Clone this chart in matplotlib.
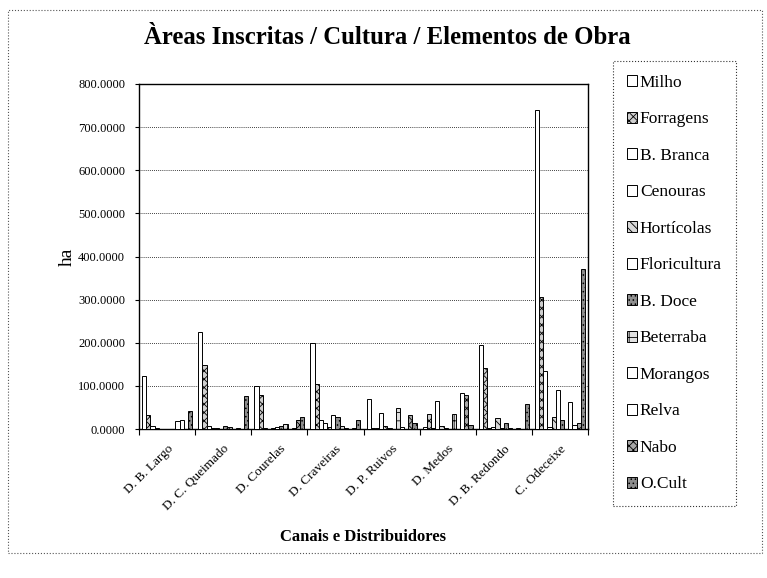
import matplotlib
matplotlib.use("Agg")
import matplotlib.pyplot as plt
import numpy as np
from matplotlib.patches import Rectangle, Patch
from matplotlib.ticker import FormatStrFormatter, FixedLocator

plt.rcParams['font.family'] = ['Liberation Serif', 'DejaVu Serif']
plt.rcParams['hatch.linewidth'] = 0.6

categories = ["D. B. Largo", "D. C. Queimado", "D. Courelas", "D. Craveiras",
              "D. P. Ruivos", "D. Medos", "D. B. Redondo", "C. Odeceixe"]

series_names = ["Milho", "Forragens", "B. Branca", "Cenouras", "Hortícolas",
                "Floricultura", "B. Doce", "Beterraba", "Morangos", "Relva",
                "Nabo", "O.Cult"]

milho        = [123, 225, 100, 200, 70, 5, 195, 740]
forragens    = [32, 148, 80, 105, 3, 35, 142, 305]
b_branca     = [6, 8, 3, 22, 2, 3, 2, 135]
cenouras     = [2, 3, 0, 15, 36, 65, 4, 5]
horticolas   = [1, 2, 2, 5, 8, 6, 25, 28]
floricultura = [0, 0, 4, 33, 2, 2, 3, 90]
b_doce       = [0, 6, 8, 28, 0, 0, 15, 20]
beterraba    = [0, 4, 12, 8, 48, 35, 3, 0]
morangos     = [18, 0, 0, 2, 5, 0, 0, 62]
relva        = [20, 2, 3, 0, 0, 84, 2, 10]
nabo         = [0, 0, 22, 3, 32, 78, 0, 15]
o_cult       = [42, 77, 28, 20, 14, 10, 57, 370]

values = [milho, forragens, b_branca, cenouras, horticolas, floricultura,
          b_doce, beterraba, morangos, relva, nabo, o_cult]

y_ticks = [0, 100, 200, 300, 400, 500, 600, 700, 800]

styles = [
    dict(facecolor='white', hatch=None),
    dict(facecolor='#cfcfcf', hatch='xxxx'),
    dict(facecolor='white', hatch=None),
    dict(facecolor='white', hatch=None),
    dict(facecolor='#d8d8d8', hatch='\\\\\\\\'),
    dict(facecolor='white', hatch=None),
    dict(facecolor='#909090', hatch='....'),
    dict(facecolor='#e0e0e0', hatch='++'),
    dict(facecolor='white', hatch=None),
    dict(facecolor='white', hatch=None),
    dict(facecolor='#a8a8a8', hatch='xxxx'),
    dict(facecolor='#8c8c8c', hatch='....'),
]

W, H = 767, 578
fig = plt.figure(figsize=(W / 100, H / 100), dpi=100)

# outer chart border
fig.patches.append(Rectangle((8 / W, 1 - 553 / H), (762 - 8) / W, (553 - 10) / H,
                             transform=fig.transFigure, fill=False,
                             edgecolor='#555555', linestyle=':', linewidth=0.8))

ax = fig.add_axes([139 / W, 1 - 429 / H, (588 - 139) / W, (429 - 84) / H])

n_series = len(values)
bw = 1 / 13.5
x = np.arange(len(categories))
for i, (vals, st) in enumerate(zip(values, styles)):
    ax.bar(x + (i - (n_series - 1) / 2) * bw, vals, width=bw,
           facecolor=st['facecolor'], hatch=st['hatch'],
           edgecolor='black', linewidth=0.7, zorder=3)

ax.set_xlim(-0.5, len(categories) - 0.5)
ax.set_ylim(0, 800)
ax.set_yticks(y_ticks)
ax.yaxis.set_major_formatter(FormatStrFormatter('%.4f'))
ax.yaxis.grid(True, linestyle=(0, (1, 1.5)), color='black', linewidth=0.6, zorder=0)
ax.set_axisbelow(True)
ax.tick_params(axis='y', labelsize=9, length=3, width=0.8, pad=7)

ax.set_xticks(x)
ax.set_xticklabels(categories, rotation=45, ha='right', va='top',
                   rotation_mode='anchor', fontsize=9.5)
ax.tick_params(axis='x', length=0, pad=10)
ax.xaxis.set_minor_locator(FixedLocator(np.arange(-0.5, len(categories), 1)))
ax.tick_params(axis='x', which='minor', length=4, width=0.8)

for s in ax.spines.values():
    s.set_linewidth(1.0)
    s.set_color('black')

fig.text(387 / W, 1 - 38 / H, "Àreas Inscritas / Cultura / Elementos de Obra",
         ha='center', va='center', fontsize=17.8, fontweight='bold')
fig.text(67 / W, 1 - 257 / H, "ha", rotation=90, ha='center', va='center',
         fontsize=14)
fig.text(363 / W, 1 - 537 / H, "Canais e Distribuidores", ha='center',
         va='center', fontsize=12, fontweight='bold')

handles = [Patch(facecolor=st['facecolor'], hatch=st['hatch'], edgecolor='black',
                 linewidth=0.7, label=name) for st, name in zip(styles, series_names)]
leg = fig.legend(handles=handles, loc='upper left',
                 bbox_to_anchor=(613 / W, 1 - 61 / H), fontsize=12.5,
                 frameon=True, fancybox=False, edgecolor='black',
                 handlelength=0.6, handleheight=0.6, handletextpad=0.15,
                 labelspacing=1.18, borderpad=0.8, borderaxespad=0)
leg.get_frame().set_linewidth(0.8)
leg.get_frame().set_linestyle(':')

fig.savefig("out.png", dpi=100)
